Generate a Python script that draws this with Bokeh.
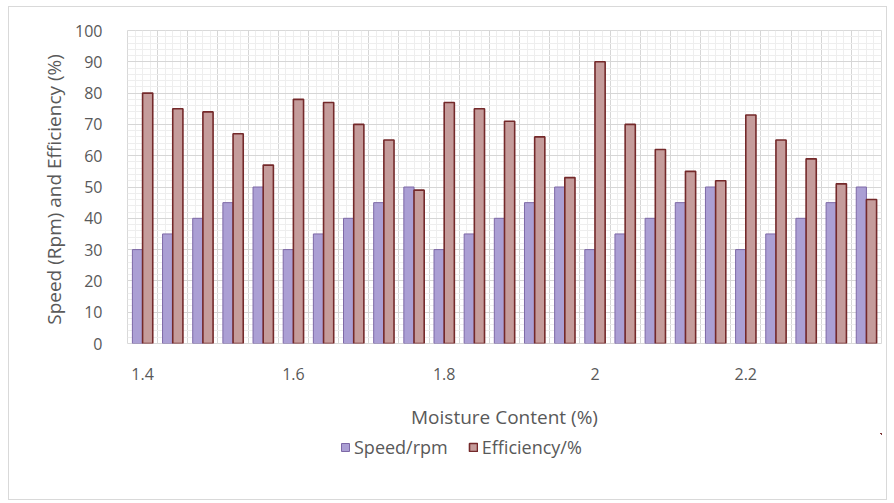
from bokeh.plotting import figure
from bokeh.layouts import column
from bokeh.models import ColumnDataSource, FixedTicker, Legend, LegendItem
from bokeh.transform import dodge
from bokeh.embed import file_html
from bokeh.resources import INLINE

# ---- data ----
moisture = [1.40, 1.44, 1.48, 1.52, 1.56, 1.60, 1.64, 1.68, 1.72, 1.76,
            1.80, 1.84, 1.88, 1.92, 1.96, 2.00, 2.04, 2.08, 2.12, 2.16,
            2.20, 2.24, 2.28, 2.32, 2.36]
speed = [30, 35, 40, 45, 50, 30, 35, 40, 45, 50, 30, 35, 40, 45, 50,
         30, 35, 40, 45, 50, 30, 35, 40, 45, 50]
efficiency = [80, 75, 74, 67, 57, 78, 77, 70, 65, 49, 77, 75, 71, 66, 53,
              90, 70, 62, 55, 52, 73, 65, 59, 51, 46]
x_ticks = [1.4, 1.6, 1.8, 2.0, 2.2]
x_tick_labels = ["1.4", "1.6", "1.8", "2", "2.2"]
y_ticks = [0, 10, 20, 30, 40, 50, 60, 70, 80, 90, 100]
series_names = ["Speed/rpm", "Efficiency/%"]

step = 0.04
bar_w = 0.0135

src = ColumnDataSource(dict(x=moisture, speed=speed, eff=efficiency))

FONT = "Open Sans"
GREY = "#595959"
SPEED_STYLE = dict(fill_color="#ab9fd4", line_color="#7d68a6", line_width=1)
EFF_STYLE = dict(fill_color="#c59c9b", line_color="#74292a", line_width=1.6)

p = figure(frame_width=754, frame_height=313, output_backend="svg", toolbar_location=None,
           x_range=(moisture[0] - step / 2, moisture[-1] + step / 2),
           y_range=(0, 100),
           min_border_left=118, min_border_right=5, min_border_top=23,
           min_border_bottom=90)

p.vbar(x=dodge("x", -bar_w / 2, range=p.x_range), top="speed", width=bar_w,
       source=src, **SPEED_STYLE)
p.vbar(x=dodge("x", bar_w / 2, range=p.x_range), top="eff", width=bar_w,
       source=src, **EFF_STYLE)

# axes
p.xaxis.ticker = FixedTicker(ticks=x_ticks)
p.xaxis.major_label_overrides = {t: l for t, l in zip(x_ticks, x_tick_labels)}
p.yaxis.ticker = FixedTicker(ticks=y_ticks)
for ax in (p.xaxis, p.yaxis):
    ax.axis_line_color = None
    ax.major_tick_line_color = None
    ax.minor_tick_line_color = None
    ax.major_label_text_font = FONT
    ax.major_label_text_color = GREY
    ax.major_label_text_font_size = "16px"
    ax.axis_label_text_font = FONT
    ax.axis_label_text_color = GREY
    ax.axis_label_text_font_size = "19px"
    ax.axis_label_text_font_style = "normal"
p.xaxis.major_label_standoff = 18
p.xaxis.axis_label = "Moisture Content (%)"
p.xaxis.axis_label_standoff = 21
p.yaxis.major_label_standoff = 19
p.yaxis.axis_label = "Speed (Rpm)  and Efficiency (%)"
p.yaxis.axis_label_standoff = 5

# grids
bounds = [m - step / 2 for m in moisture] + [moisture[-1] + step / 2]
minor_v = [m - step / 4 for m in moisture] + [m + step / 4 for m in moisture] + moisture
p.xgrid.ticker = FixedTicker(ticks=bounds, minor_ticks=minor_v)
p.xgrid.grid_line_color = "#d6d6d6"
p.xgrid.minor_grid_line_color = "#eeeeee"
p.ygrid.ticker = FixedTicker(ticks=y_ticks, minor_ticks=list(range(0, 101, 2)))
p.ygrid.grid_line_color = "#d6d6d6"
p.ygrid.minor_grid_line_color = "#eeeeee"
p.outline_line_color = "#d9d9d9"

# legend strip (separate figure below the chart); its bars fall far outside its ranges
lg = figure(width=877, height=66, output_backend="svg", toolbar_location=None,
            x_range=(-20, -19), y_range=(-20, -19), min_border=0)
lg.axis.visible = False
lg.grid.visible = False
lg.outline_line_color = None
d1 = lg.vbar(x="x", top="speed", width=bar_w, source=src, **SPEED_STYLE)
d2 = lg.vbar(x="x", top="eff", width=bar_w, source=src, **EFF_STYLE)
legend = Legend(items=[LegendItem(label=series_names[0], renderers=[d1]),
                       LegendItem(label=series_names[1], renderers=[d2])],
                orientation="horizontal", location=(213, 40),
                label_text_font=FONT, label_text_color=GREY,
                label_text_font_size="18px", glyph_width=10, glyph_height=10,
                label_standoff=4, spacing=20, border_line_color=None,
                background_fill_alpha=0, padding=2, margin=0)
lg.add_layout(legend, "center")

layout = column(p, lg, spacing=0,
                styles={"border": "1px solid #d9d9d9", "margin-left": "8px",
                        "margin-top": "6px"})

open("out.html", "w").write(file_html(layout, INLINE))
